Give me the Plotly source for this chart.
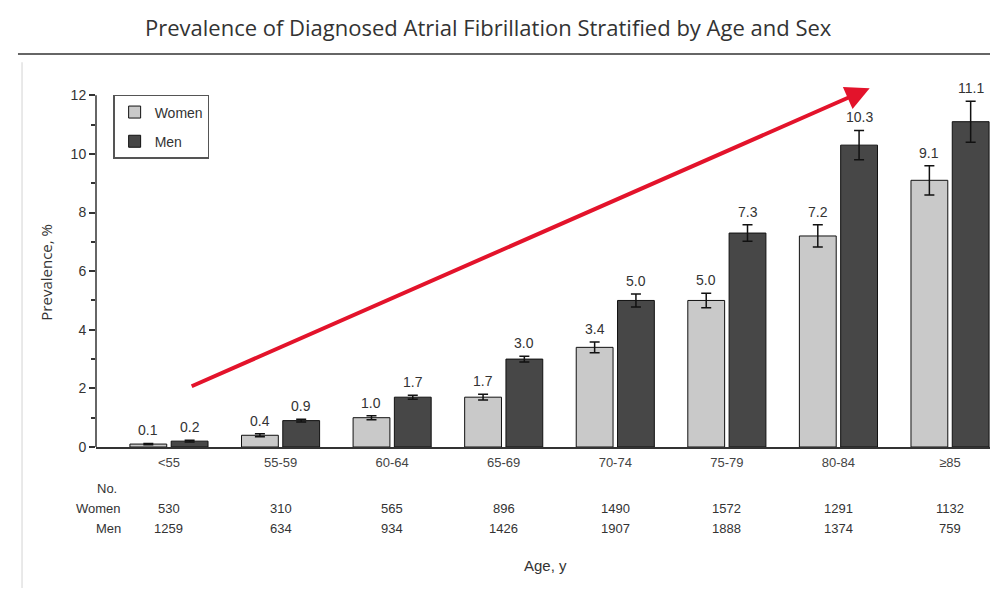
import plotly.graph_objects as go

categories = ["<55", "55-59", "60-64", "65-69", "70-74", "75-79", "80-84", "≥85"]
women = [0.1, 0.4, 1.0, 1.7, 3.4, 5.0, 7.2, 9.1]
men = [0.2, 0.9, 1.7, 3.0, 5.0, 7.3, 10.3, 11.1]
women_err = [0.02, 0.05, 0.07, 0.1, 0.18, 0.25, 0.38, 0.5]
men_err = [0.03, 0.05, 0.07, 0.1, 0.22, 0.28, 0.5, 0.7]
women_n = [530, 310, 565, 896, 1490, 1572, 1291, 1132]
men_n = [1259, 634, 934, 1426, 1907, 1888, 1374, 759]
yticks = [0, 2, 4, 6, 8, 10, 12]

FONT = "Liberation Sans, Arial, sans-serif"
TXT = "#333333"
xs = list(range(len(categories)))
W = 0.33

fig = go.Figure()
fig.add_trace(go.Bar(
    x=xs, y=women, name="Women", width=W, offset=-0.35,
    marker=dict(color="#c9c9c9", line=dict(color="#111111", width=1)),
    error_y=dict(type="data", array=women_err, color="#111111", thickness=1.5, width=5),
    legendgroup="w",
))
fig.add_trace(go.Bar(
    x=xs, y=men, name="Men", width=W, offset=0.02,
    marker=dict(color="#474747", line=dict(color="#111111", width=1)),
    error_y=dict(type="data", array=men_err, color="#111111", thickness=1.5, width=5),
    legendgroup="m",
))

ann = []
for i in xs:
    ann.append(dict(x=i - 0.35 + W / 2, y=women[i] + women_err[i], xref="x", yref="y",
                    text=f"{women[i]:.1f}", showarrow=False, yanchor="bottom", yshift=3,
                    font=dict(size=14, color=TXT, family=FONT)))
    ann.append(dict(x=i + 0.02 + W / 2, y=men[i] + men_err[i], xref="x", yref="y",
                    text=f"{men[i]:.1f}", showarrow=False, yanchor="bottom", yshift=3,
                    font=dict(size=14, color=TXT, family=FONT)))
    ann.append(dict(x=i, y=0, xref="x", yref="paper", text=str(women_n[i]), showarrow=False,
                    yanchor="middle", yshift=-61, font=dict(size=13, color=TXT, family=FONT)))
    ann.append(dict(x=i, y=0, xref="x", yref="paper", text=str(men_n[i]), showarrow=False,
                    yanchor="middle", yshift=-81, font=dict(size=13, color=TXT, family=FONT)))

ann += [
    dict(x=0.012, y=0, xref="paper", yref="paper", text="No.", showarrow=False, xanchor="center",
         yanchor="middle", yshift=-41, font=dict(size=13, color=TXT, family=FONT)),
    dict(x=0.03, y=0, xref="paper", yref="paper", text="Women", showarrow=False, xanchor="right",
         yanchor="middle", yshift=-61, font=dict(size=13, color=TXT, family=FONT)),
    dict(x=0.03, y=0, xref="paper", yref="paper", text="Men", showarrow=False, xanchor="right",
         yanchor="middle", yshift=-81, font=dict(size=13, color=TXT, family=FONT)),
    dict(x=0.498, y=0, xref="paper", yref="paper", text="Age, y", showarrow=False,
         yanchor="middle", yshift=-118, font=dict(size=15, color=TXT, family=FONT)),
    dict(x=-0.0555, y=0.46, xref="paper", yref="paper", text="Prevalence, %", showarrow=False,
         textangle=-90, xanchor="center", yanchor="middle",
         font=dict(size=15, color=TXT, family="Open Sans, sans-serif")),
    # red trend arrow
    dict(x=6.28, y=12.24, ax=0.19, ay=2.05, xref="x", yref="y", axref="x", ayref="y",
         text="", showarrow=True, arrowhead=2, arrowsize=1.2, arrowwidth=4, arrowcolor="#e3132b",
         standoff=0),
]

shapes = [
    dict(type="line", xref="paper", yref="y", x0=0, x1=0, y0=0, y1=12,
         line=dict(color="#333333", width=1.5)),
    dict(type="line", xref="paper", yref="paper", x0=-0.0865, x1=1.0, y0=1.0315, y1=1.0315,
         line=dict(color="#666666", width=2)),
    dict(type="line", xref="paper", yref="paper", x0=-0.082, x1=-0.082, y0=1.01, y1=-0.37,
         line=dict(color="#e2e2e2", width=1.5)),
]

fig.update_layout(
    width=990, height=581,
    margin=dict(l=88, r=0, t=58, b=142),
    paper_bgcolor="white", plot_bgcolor="white",
    barmode="overlay",
    title=dict(text="Prevalence of Diagnosed Atrial Fibrillation Stratified by Age and Sex",
               x=0.485, xanchor="center", y=1 - 20 / 581, yanchor="middle",
               font=dict(size=22, color="#333333", family="Open Sans, sans-serif")),
    font=dict(family=FONT, color=TXT),
    xaxis=dict(range=[-0.654, 7.43], tickvals=xs, ticktext=categories, ticks="",
               showline=True, linecolor="#333333", linewidth=1.5, showgrid=False, zeroline=False,
               tickfont=dict(size=13, color="#444444", family=FONT), ticklabelstandoff=3),
    yaxis=dict(range=[0, 13], tickvals=yticks, ticks="outside", ticklen=6, tickwidth=1.5,
               tickcolor="#333333", showline=False, showgrid=False, zeroline=False,
               tickfont=dict(size=14, color="#333333", family=FONT),
               minor=dict(tickvals=[1, 3, 5, 7, 9, 11], ticks="outside", ticklen=4,
                          tickwidth=1.5, tickcolor="#333333")),
    legend=dict(x=0.019, y=0.924, xanchor="left", yanchor="top", bgcolor="white",
                bordercolor="#555555", borderwidth=1.5, font=dict(size=14, color=TXT, family=FONT),
                traceorder="grouped", tracegroupgap=8),
    annotations=ann, shapes=shapes,
)

fig.write_html("out.html")
